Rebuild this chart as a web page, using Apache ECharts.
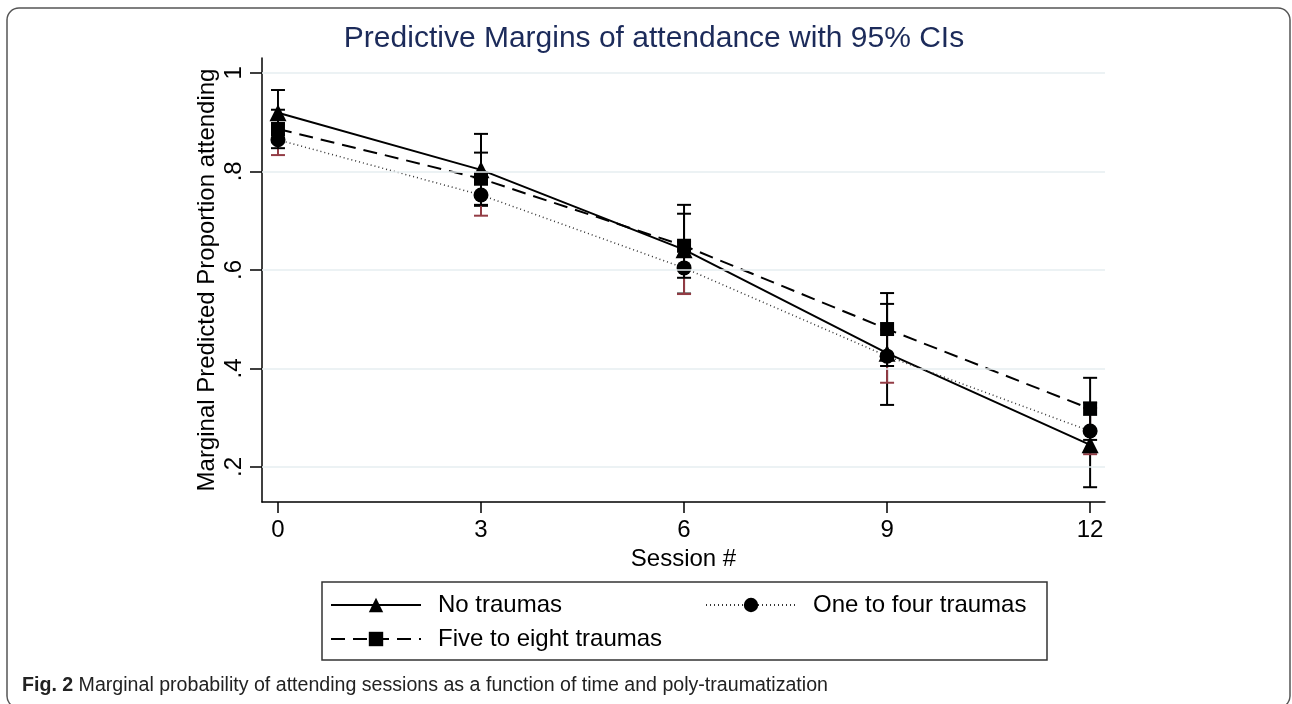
<!DOCTYPE html>
<html>
<head>
<meta charset="utf-8">
<script src="https://cdn.jsdelivr.net/npm/echarts@6/dist/echarts.min.js"></script>
<style>
  html, body { margin: 0; padding: 0; background: #fff; }
  #chart { width: 1292px; height: 704px; }
</style>
</head>
<body>
<div id="chart"></div>
<script>
// ---- data ----
const sessions = [0, 3, 6, 9, 12];
const xTicks = [0, 3, 6, 9, 12];
const yTicks = [0.2, 0.4, 0.6, 0.8, 1];

const noTraumas   = [0.919, 0.803, 0.641, 0.431, 0.245];
const noLow       = [0.873, 0.730, 0.552, 0.326, 0.159];
const noHigh      = [0.965, 0.876, 0.732, 0.531, 0.331];

const oneToFour   = [0.864, 0.752, 0.604, 0.425, 0.273];
const oneLow      = [0.833, 0.710, 0.551, 0.371, 0.226];
const oneHigh     = [0.895, 0.794, 0.657, 0.479, 0.320];

const fiveToEight = [0.886, 0.785, 0.649, 0.480, 0.318];
const fiveLow     = [0.847, 0.732, 0.584, 0.405, 0.255];
const fiveHigh    = [0.925, 0.838, 0.714, 0.553, 0.381];

const seriesNames = ['No traumas', 'One to four traumas', 'Five to eight traumas'];

// ---- helpers ----
function pairs(ys) { return sessions.map((x, i) => [x, ys[i]]); }
function ciData(lo, hi) { return sessions.map((x, i) => [x, lo[i], hi[i]]); }
function ciSeries(name, lo, hi, color) {
  return {
    type: 'custom',
    name: name,
    data: ciData(lo, hi),
    silent: true,
    encode: { x: 0, y: [1, 2] },
    renderItem: function (params, api) {
      const x = api.value(0);
      const pLo = api.coord([x, api.value(1)]);
      const pHi = api.coord([x, api.value(2)]);
      const hw = 7;
      const st = { stroke: color, lineWidth: 2 };
      return {
        type: 'group',
        children: [
          { type: 'line', shape: { x1: pLo[0], y1: pLo[1], x2: pHi[0], y2: pHi[1] }, style: st },
          { type: 'line', shape: { x1: pLo[0] - hw, y1: pLo[1], x2: pLo[0] + hw, y2: pLo[1] }, style: st },
          { type: 'line', shape: { x1: pHi[0] - hw, y1: pHi[1], x2: pHi[0] + hw, y2: pHi[1] }, style: st }
        ]
      };
    }
  };
}
const FONT = 'Liberation Sans, Arial, sans-serif';

const chart = echarts.init(document.getElementById('chart'), null, { renderer: 'canvas' });

const legendCommon = {
  itemWidth: 90,
  itemHeight: 18,
  textStyle: { fontFamily: FONT, fontSize: 24, color: '#000', padding: [0, 0, 0, 12] },
  selectedMode: false,
  padding: 0
};

chart.setOption({
  backgroundColor: '#fff',
  animation: false,
  title: {
    text: 'Predictive Margins of attendance with 95% CIs',
    left: 649, textAlign: 'center', top: 19,
    textStyle: { fontFamily: FONT, fontSize: 30, fontWeight: 'normal', color: '#1c2b5a' }
  },
  grid: { left: 262, right: 187, top: 58, bottom: 202 },
  xAxis: {
    type: 'value', min: -0.236, max: 12.22,
    name: 'Session #', nameLocation: 'middle', nameGap: 39,
    nameTextStyle: { fontFamily: FONT, fontSize: 24, color: '#000' },
    axisLine: { show: true, onZero: false, lineStyle: { color: '#000', width: 1.5 } },
    axisTick: { show: true, customValues: xTicks, length: 11, lineStyle: { color: '#000', width: 1.5 } },
    axisLabel: { customValues: xTicks, fontFamily: FONT, fontSize: 24, color: '#000', margin: 16 },
    splitLine: { show: false }
  },
  yAxis: {
    type: 'value', min: 0.129, max: 1.03,
    name: 'Marginal Predicted Proportion attending', nameLocation: 'middle', nameGap: 43, nameRotate: 90,
    nameMoveOverlap: false,
    nameTextStyle: { fontFamily: FONT, fontSize: 24, color: '#000' },
    axisLine: { show: true, onZero: false, lineStyle: { color: '#000', width: 1.5 } },
    axisTick: { show: true, customValues: yTicks, length: 12, lineStyle: { color: '#000', width: 1.5 } },
    axisLabel: {
      customValues: yTicks, rotate: 90, fontFamily: FONT, fontSize: 24, color: '#000', margin: 16,
      formatter: v => (v === 1 ? '1' : String(v).replace(/^0/, ''))
    },
    splitLine: { show: false }
  },
  legend: [
    Object.assign({ data: [seriesNames[0]], left: 330, top: 593 }, legendCommon),
    Object.assign({ data: [seriesNames[1]], left: 705, top: 593 }, legendCommon),
    Object.assign({ data: [seriesNames[2]], left: 330, top: 627 }, legendCommon)
  ],
  graphic: [
    { type: 'rect', shape: { x: 322, y: 582, width: 725, height: 78 },
      style: { fill: 'none', stroke: '#333', lineWidth: 1.5 }, silent: true },
    { type: 'rect', shape: { x: 7, y: 8, width: 1283, height: 700, r: 12 },
      style: { fill: 'none', stroke: '#555', lineWidth: 1.5 }, silent: true },
    { type: 'text', left: 22, top: 676,
      style: {
        text: '{b|Fig. 2} Marginal probability of attending sessions as a function of time and poly-traumatization',
        fontFamily: FONT, fontSize: 19.6, fill: '#222',
        rich: { b: { fontFamily: FONT, fontSize: 19.6, fontWeight: 'bold', fill: '#222' } }
      }, silent: true }
  ],
  series: [
    {
      type: 'line', name: 'grid', data: [], silent: true,
      markLine: {
        silent: true, symbol: 'none', label: { show: false },
        lineStyle: { color: '#e6eef0', width: 1.5, type: 'solid' },
        data: yTicks.map(v => ({ yAxis: v }))
      }
    },
    ciSeries('ci-no', noLow, noHigh, '#000'),
    ciSeries('ci-one', oneLow, oneHigh, '#933c45'),
    ciSeries('ci-five', fiveLow, fiveHigh, '#000'),
    {
      type: 'line', name: seriesNames[0], data: pairs(noTraumas),
      symbol: 'triangle', symbolSize: 17, showAllSymbol: true,
      itemStyle: { color: '#000' },
      lineStyle: { color: '#000', width: 2, type: 'solid' }
    },
    {
      type: 'line', name: seriesNames[1], data: pairs(oneToFour),
      symbol: 'circle', symbolSize: 15, showAllSymbol: true,
      itemStyle: { color: '#000' },
      lineStyle: { color: '#333', width: 1.5, type: [1, 3] }
    },
    {
      type: 'line', name: seriesNames[2], data: pairs(fiveToEight),
      symbol: 'rect', symbolSize: 14, showAllSymbol: true,
      itemStyle: { color: '#000' },
      lineStyle: { color: '#000', width: 2, type: [14, 8] }
    }
  ]
});
</script>
</body>
</html>
